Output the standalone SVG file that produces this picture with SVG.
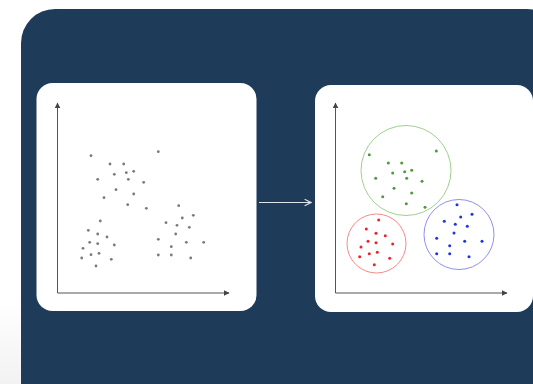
<svg xmlns="http://www.w3.org/2000/svg" width="533" height="384" viewBox="0 0 533 384">
<defs>
<marker id="ah" viewBox="0 0 10 10" refX="9" refY="5" markerWidth="6" markerHeight="6" orient="auto" markerUnits="userSpaceOnUse"><path d="M0,0 L10,5 L0,10 z" fill="#444"/></marker>
<marker id="ah2" viewBox="0 0 10 10" refX="9" refY="5" markerWidth="8" markerHeight="8" orient="auto" markerUnits="userSpaceOnUse"><path d="M1,1 L9,5 L1,9" fill="none" stroke="#dde3ea" stroke-width="1.5"/></marker>
<linearGradient id="sh" x1="0" y1="0" x2="0" y2="1"><stop offset="0" stop-color="#fff"/><stop offset="1" stop-color="#f2f2f2"/></linearGradient>
</defs>
<style>
.panel{fill:#fff}
.axis{stroke:#555;stroke-width:1;fill:none}
.g circle{fill:#7a7a7a}
.gr circle{fill:#4e9a3e}
.rd circle{fill:#ee2222}
.bl circle{fill:#2233dd}
</style>
<rect width="533" height="384" fill="#fff"/>
<rect x="0" y="300" width="21" height="84" fill="url(#sh)"/>
<rect id="bg" x="21" y="9" width="540" height="420" rx="34" fill="#1e3c5a"/>
<g id="raw">
<rect class="panel" x="36.5" y="83" width="220" height="228" rx="16"/>
<line class="axis" x1="57.5" y1="293" x2="57.5" y2="103" marker-end="url(#ah)"/>
<line class="axis" x1="57.5" y1="293" x2="229" y2="293" marker-end="url(#ah)"/>
<g class="g">
<circle cx="91" cy="155.7" r="1.4"/><circle cx="158.3" cy="151.7" r="1.4"/><circle cx="110" cy="164" r="1.4"/><circle cx="123.7" cy="164" r="1.4"/><circle cx="114.3" cy="174.3" r="1.4"/><circle cx="126.3" cy="172.7" r="1.4"/><circle cx="133.7" cy="171.3" r="1.4"/><circle cx="97.7" cy="179.3" r="1.4"/><circle cx="128.3" cy="179.3" r="1.4"/><circle cx="143.7" cy="182.3" r="1.4"/><circle cx="116" cy="189.7" r="1.4"/><circle cx="133.7" cy="194" r="1.4"/><circle cx="104" cy="197.7" r="1.4"/><circle cx="127.7" cy="204.7" r="1.4"/><circle cx="146.3" cy="208.3" r="1.4"/>
<circle cx="100.3" cy="221" r="1.4"/><circle cx="88.3" cy="230.3" r="1.4"/><circle cx="97.7" cy="234" r="1.4"/><circle cx="107" cy="237" r="1.4"/><circle cx="89.7" cy="242.3" r="1.4"/><circle cx="97.7" cy="243.7" r="1.4"/><circle cx="114.3" cy="245" r="1.4"/><circle cx="83" cy="248.3" r="1.4"/><circle cx="91" cy="254.7" r="1.4"/><circle cx="99" cy="253.3" r="1.4"/><circle cx="81.7" cy="258" r="1.4"/><circle cx="111.3" cy="259.3" r="1.4"/><circle cx="96" cy="266" r="1.4"/>
<circle cx="178.7" cy="205.7" r="1.4"/><circle cx="193.3" cy="215.3" r="1.4"/><circle cx="182.3" cy="218" r="1.4"/><circle cx="166" cy="222.7" r="1.4"/><circle cx="177" cy="225.3" r="1.4"/><circle cx="189.3" cy="227.3" r="1.4"/><circle cx="175.7" cy="234" r="1.4"/><circle cx="158.3" cy="239.3" r="1.4"/><circle cx="186.3" cy="242.3" r="1.4"/><circle cx="203.7" cy="242.3" r="1.4"/><circle cx="171.3" cy="246.7" r="1.4"/><circle cx="158.3" cy="255" r="1.4"/><circle cx="171.3" cy="255" r="1.4"/><circle cx="190.7" cy="258" r="1.4"/>
</g>
</g>
<g id="connectors">
<line x1="259" y1="202.5" x2="311" y2="202.5" stroke="#dde3ea" stroke-width="1" marker-end="url(#ah2)"/>
</g>
<g id="clustered">
<rect class="panel" x="315" y="85" width="218" height="227" rx="16"/>
<line class="axis" x1="335.5" y1="293" x2="335.5" y2="103" marker-end="url(#ah)"/>
<line class="axis" x1="335.5" y1="293" x2="507" y2="293" marker-end="url(#ah)"/>
<circle cx="406" cy="170.5" r="45" fill="none" stroke="#9fd08f" stroke-width="1"/>
<circle cx="376.5" cy="243.5" r="29.5" fill="none" stroke="#f48a8a" stroke-width="1"/>
<circle cx="459" cy="234.5" r="35" fill="none" stroke="#8f8ff0" stroke-width="1"/>
<g class="gr">
<circle cx="369.3" cy="154.7" r="1.5"/><circle cx="436.3" cy="151" r="1.5"/><circle cx="388.3" cy="163" r="1.5"/><circle cx="401.7" cy="163" r="1.5"/><circle cx="392.7" cy="173" r="1.5"/><circle cx="404.7" cy="171.7" r="1.5"/><circle cx="411.7" cy="170.3" r="1.5"/><circle cx="375.7" cy="178.3" r="1.5"/><circle cx="406.7" cy="178.3" r="1.5"/><circle cx="422" cy="181.3" r="1.5"/><circle cx="394" cy="188.3" r="1.5"/><circle cx="411.7" cy="193" r="1.5"/><circle cx="382.7" cy="196.7" r="1.5"/><circle cx="406.3" cy="203.7" r="1.5"/><circle cx="425" cy="207.3" r="1.5"/>
</g>
<g class="rd">
<circle cx="378.7" cy="220" r="1.5"/><circle cx="366.3" cy="229" r="1.5"/><circle cx="376" cy="233.3" r="1.5"/><circle cx="385.3" cy="235.7" r="1.5"/><circle cx="368" cy="241.3" r="1.5"/><circle cx="376" cy="242.7" r="1.5"/><circle cx="392.7" cy="244" r="1.5"/><circle cx="361" cy="247" r="1.5"/><circle cx="369.3" cy="253.7" r="1.5"/><circle cx="377.3" cy="252.3" r="1.5"/><circle cx="359.7" cy="256.7" r="1.5"/><circle cx="389.7" cy="258.3" r="1.5"/><circle cx="374.3" cy="264.7" r="1.5"/>
</g>
<g class="bl">
<circle cx="457" cy="204.7" r="1.5"/><circle cx="472" cy="214.3" r="1.5"/><circle cx="460.7" cy="217" r="1.5"/><circle cx="444.3" cy="221.3" r="1.5"/><circle cx="455.3" cy="224.3" r="1.5"/><circle cx="467.3" cy="226.3" r="1.5"/><circle cx="454" cy="233" r="1.5"/><circle cx="436.7" cy="238.3" r="1.5"/><circle cx="464.7" cy="241.3" r="1.5"/><circle cx="482" cy="241.3" r="1.5"/><circle cx="449.7" cy="245.7" r="1.5"/><circle cx="436.7" cy="253.7" r="1.5"/><circle cx="449.7" cy="253.7" r="1.5"/><circle cx="469" cy="256.7" r="1.5"/>
</g>
</g>
</svg>
